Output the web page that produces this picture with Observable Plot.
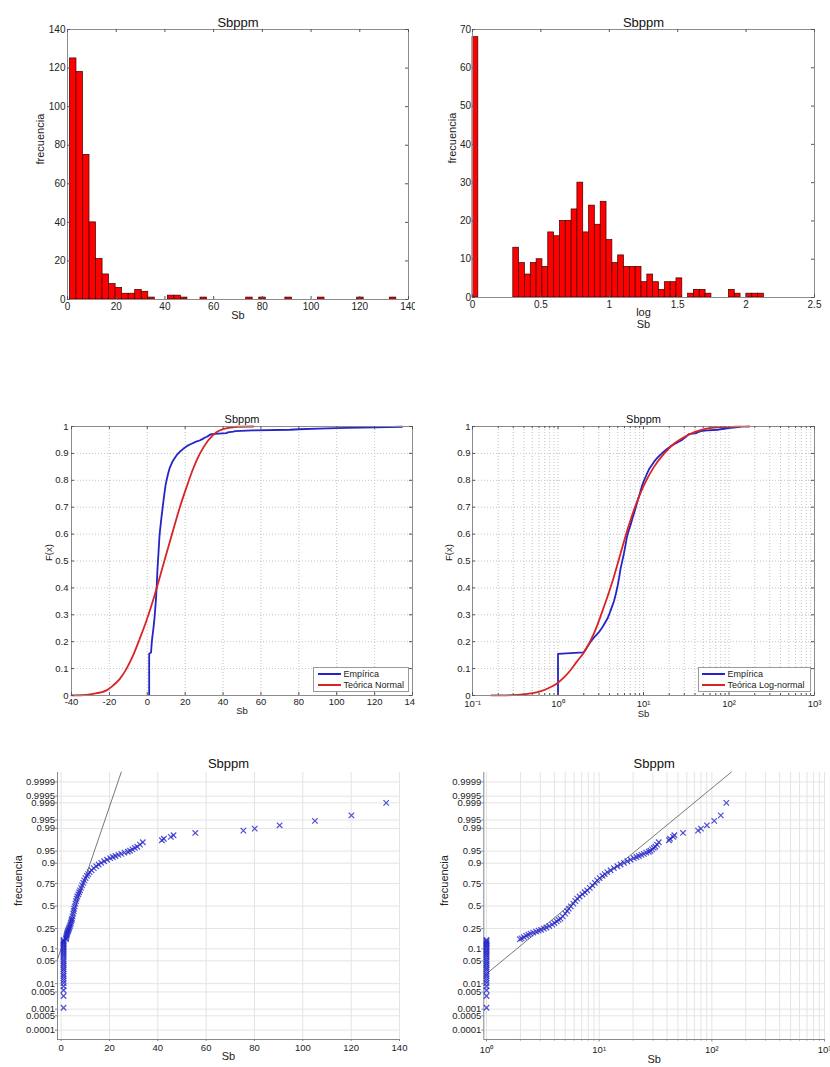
<!DOCTYPE html>
<html><head><meta charset="utf-8">
<script src="https://cdn.jsdelivr.net/npm/d3@7"></script>
<script src="https://cdn.jsdelivr.net/npm/@observablehq/plot@0.6"></script>
<style>
body{margin:0;background:#fff;}
#wrap{position:relative;width:830px;height:1067px;overflow:hidden;font-family:"Liberation Sans",Arial,Helvetica,sans-serif;background:#fff;}
.panel{position:absolute;}
.legend{position:absolute;background:#fff;border:1px solid #9a9a9a;font-size:9px;color:#222;box-sizing:border-box;padding:0.5px 0 0 0;}
.legend .row{display:flex;align-items:center;height:11px;white-space:nowrap;}
.legend .sw{display:inline-block;height:0;border-top:2px solid;}
</style></head><body><div id="wrap"></div><script>
// ---------------- DATA ----------------
const chartTitle = "Sbppm";
const xLabel = "Sb";
const xLabelLog = ["log", "Sb"];
const yLabelFreq = "frecuencia";
const yLabelCdf = "F(x)";

// Panel 1: histogram of Sb (50 bins over the data range)
const sbHistRange = [1, 135];
const sbCounts = [125,118,75,40,21,13,8,6,3,3,5,4,1,0,0,2,2,1,0,0,1,0,0,0,0,0,0,1,0,1,0,0,0,1,0,0,0,0,1,0,0,0,0,0,1,0,0,0,0,1];
const sbTicksX = [0,20,40,60,80,100,120,140];
const sbTicksY = [0,20,40,60,80,100,120,140];

// Panel 2: histogram of log10(Sb) (50 bins)
const logHistRange = [0, 2.13];
const logCounts = [68,0,0,0,0,0,0,13,9,6,9,10,8,17,16,20,20,23,30,17,24,19,25,15,9,11,8,8,8,4,6,4,2,4,4,5,0,1,2,2,1,0,0,0,2,1,0,1,1,1];
const logTicksX = [0,0.5,1,1.5,2,2.5];
const logTicksY = [0,10,20,30,40,50,60,70];

// Sample (Sb value, cumulative probability) read from the empirical / probability plots
const sampleSb = [1,1,1,1,1,1,1,1,1,1,1,1,1,1,1,1,1,1,1,1,1,1,1,1,1,1,1,1,1,
  1.98,2.05,2.15,2.25,2.35,2.46,2.6,2.75,2.9,3.05,3.23,3.4,3.6,3.83,4.0,4.2,4.37,4.54,4.75,5.0,5.2,5.37,5.6,5.9,6.15,6.38,6.7,7.1,7.45,7.82,8.25,8.7,9.15,9.6,10.1,10.7,11.2,11.8,12.6,13.5,14.5,15.5,16.6,17.8,19.0,20.3,21.4,22.5,23.7,24.9,26.2,27.6,28.5,29.5,30.5,31.5,32.6,33.8,
  41.7,42.5,45.4,46.5,55.5,75.4,80.1,90.4,105,120.1,134.5];
const sampleP = [0.00115,0.0035,0.0058,0.0081,0.0104,0.0127,0.015,0.018,0.021,0.025,0.029,0.033,0.038,0.043,0.049,0.055,0.062,0.069,0.076,0.084,0.092,0.1,0.108,0.116,0.124,0.132,0.14,0.148,0.155,
  0.160,0.166,0.175,0.186,0.195,0.204,0.213,0.222,0.230,0.238,0.249,0.260,0.274,0.289,0.305,0.323,0.338,0.353,0.378,0.410,0.440,0.469,0.495,0.528,0.558,0.587,0.612,0.637,0.660,0.681,0.707,0.732,0.756,0.779,0.798,0.816,0.830,0.845,0.858,0.872,0.883,0.893,0.902,0.910,0.917,0.924,0.929,0.933,0.937,0.941,0.945,0.948,0.951,0.955,0.959,0.962,0.967,0.972,
  0.9756,0.978,0.9808,0.983,0.9857,0.988,0.9898,0.9922,0.9946,0.9967,0.999];

// Panel 3: theoretical normal CDF
const normalSb = [-40,-35,-28.6,-21.5,-18.1,-14.5,-11,-7.5,-4,-0.4,3.6,6.6,10.1,13.6,17.2,20.7,24.2,27.7,32.1,36.5,40,44,48,56];
const normalF  = [0.0005,0.001,0.006,0.019,0.037,0.062,0.099,0.149,0.211,0.279,0.366,0.44,0.527,0.613,0.70,0.774,0.843,0.898,0.948,0.979,0.99,0.996,0.999,1.0];

// Panel 4: theoretical log-normal CDF
const lognSb = [0.166,0.25,0.361,0.5,0.62,0.78,0.973,1.2,1.39,1.65,2.0,2.62,3.43,4.49,5.38,6.45,8.07,10.1,13.2,17.3,22.7,32.6,51,80,120,173];
const lognF  = [0.0002,0.0008,0.003,0.009,0.015,0.028,0.045,0.07,0.093,0.125,0.159,0.229,0.328,0.44,0.527,0.613,0.706,0.781,0.849,0.898,0.936,0.967,0.99,0.997,0.999,1.0];

// Panels 5/6: reference lines (Sb, probability at ends)
const refLinSb = [-1.5, 24.9];
const refLinP  = [0.055, 0.99997];
const refLogSb = [0.946, 149];
const refLogP  = [0.018, 0.99997];

const cdfTicksX = [-40,-20,0,20,40,60,80,100,120,140];
const cdfTicksY = [0,0.1,0.2,0.3,0.4,0.5,0.6,0.7,0.8,0.9,1];
const logAxisTicks = [0.1,1,10,100,1000];
const logAxisLabels = ["10\u207B\u00B9","10\u2070","10\u00B9","10\u00B2","10\u00B3"];
const probTicks = [0.0001,0.0005,0.001,0.005,0.01,0.05,0.1,0.25,0.5,0.75,0.9,0.95,0.99,0.995,0.999,0.9995,0.9999];
const probTickLabels = ["0.0001","0.0005","0.001","0.005","0.01","0.05","0.1","0.25","0.5","0.75","0.9","0.95","0.99","0.995","0.999","0.9995","0.9999"];
const p5TicksX = [0,20,40,60,80,100,120,140];
const p6TicksX = [1,10,100,1000];
const legend3 = ["Empírica","Teórica Normal"];
const legend4 = ["Empírica","Teórica Log-normal"];

// ---------------- HELPERS ----------------
const FONT = '"Liberation Sans", Arial, Helvetica, sans-serif';
const BLUE = "#2424c8", RED = "#d92424";
const wrap = document.getElementById("wrap");

function probit(p){
  const a=[-3.969683028665376e+01,2.209460984245205e+02,-2.759285104469687e+02,1.383577518672690e+02,-3.066479806614716e+01,2.506628277459239e+00];
  const b=[-5.447609879822406e+01,1.615858368580409e+02,-1.556989798598866e+02,6.680131188771972e+01,-1.328068155288572e+01];
  const c=[-7.784894002430293e-03,-3.223964580411365e-01,-2.400758277161838e+00,-2.549732539343734e+00,4.374664141464968e+00,2.938163982698783e+00];
  const d=[7.784695709041462e-03,3.224671290700398e-01,2.445134137142996e+00,3.754408661907416e+00];
  const pl=0.02425, ph=1-pl; let q,r;
  if(p<pl){q=Math.sqrt(-2*Math.log(p));return (((((c[0]*q+c[1])*q+c[2])*q+c[3])*q+c[4])*q+c[5])/((((d[0]*q+d[1])*q+d[2])*q+d[3])*q+1);}
  if(p<=ph){q=p-0.5;r=q*q;return (((((a[0]*r+a[1])*r+a[2])*r+a[3])*r+a[4])*r+a[5])*q/(((((b[0]*r+b[1])*r+b[2])*r+b[3])*r+b[4])*r+1);}
  q=Math.sqrt(-2*Math.log(1-p));return -(((((c[0]*q+c[1])*q+c[2])*q+c[3])*q+c[4])*q+c[5])/((((d[0]*q+d[1])*q+d[2])*q+d[3])*q+1);
}
const probZ = probTicks.map(probit);

function place(svg, left, top){
  const d=document.createElement("div");
  d.className="panel"; d.style.left=left+"px"; d.style.top=top+"px";
  d.appendChild(svg); wrap.appendChild(d);
}
function style(fs){ return {fontFamily:FONT,fontSize:fs,color:"#222",background:"transparent",overflow:"hidden"}; }
function inTicks(xt, yt, fw, fh, len, color="#555"){
  return [
    Plot.tickX(xt,{x:d=>d,insetTop:fh-len,stroke:color}),
    Plot.tickX(xt,{x:d=>d,insetBottom:fh-len,stroke:color}),
    Plot.tickY(yt,{y:d=>d,insetRight:fw-len,stroke:color}),
    Plot.tickY(yt,{y:d=>d,insetLeft:fw-len,stroke:color})
  ];
}
function minorLog(lo, hi){
  const out=[];
  for(let k=-1;k<=3;k++) for(let m=2;m<=9;m++){const v=m*Math.pow(10,k); if(v>lo&&v<hi) out.push(v);}
  return out;
}
function texts(title, tdy, tfs, xl, xdy, lfs, yl, ydx){
  const arr=[Plot.text([title],{text:d=>d,frameAnchor:"top",dy:tdy,fontSize:tfs,fill:"#111"})];
  (Array.isArray(xl)?xl:[xl]).forEach((s,i)=>arr.push(Plot.text([s],{text:d=>d,frameAnchor:"bottom",dy:xdy+i*12,fontSize:lfs,fill:"#222"})));
  arr.push(Plot.text([yl],{text:d=>d,frameAnchor:"left",dx:ydx,rotate:-90,fontSize:lfs,fill:"#222"}));
  return arr;
}
function legend(left, top, width, labels, lineLeft, lineW, gap){
  const div=document.createElement("div"); div.className="legend";
  Object.assign(div.style,{left:left+"px",top:top+"px",width:width+"px",height:"25px"});
  [BLUE,RED].forEach((col,i)=>{
    const row=document.createElement("div"); row.className="row";
    const sw=document.createElement("span"); sw.className="sw";
    sw.style.borderTopColor=col; sw.style.width=lineW+"px"; sw.style.marginLeft=lineLeft+"px"; sw.style.marginRight=gap+"px";
    const t=document.createElement("span"); t.textContent=labels[i];
    row.appendChild(sw); row.appendChild(t); div.appendChild(row);
  });
  wrap.appendChild(div);
}
function histBins(counts, range){
  const w=(range[1]-range[0])/counts.length;
  return counts.map((n,i)=>({x1:range[0]+i*w,x2:range[0]+(i+1)*w,n})).filter(d=>d.n>0);
}

// ---------------- PANEL 1 ----------------
{
  const W=415,H=335,L=67,R=7,T=29,B=36,fw=W-L-R,fh=H-T-B;
  place(Plot.plot({width:W,height:H,marginLeft:L,marginRight:R,marginTop:T,marginBottom:B,style:style("10px"),
    x:{domain:[0,140],label:null}, y:{domain:[0,140],label:null},
    marks:[
      Plot.rectY(histBins(sbCounts,sbHistRange),{x1:"x1",x2:"x2",y1:0,y2:"n",fill:"#ff0000",stroke:"#3b0000",strokeWidth:0.7}),
      Plot.frame({stroke:"#8c8c8c"}),
      ...inTicks(sbTicksX,sbTicksY,fw,fh,3),
      Plot.axisX(sbTicksX,{tickSize:0,tickPadding:3,tickFormat:d=>String(d),label:null}),
      Plot.axisY(sbTicksY,{tickSize:0,tickPadding:2,tickFormat:d=>String(d),label:null}),
      ...texts(chartTitle,-12,13,xLabel,19,11,yLabelFreq,-27)
    ]}),0,0);
}
// ---------------- PANEL 2 ----------------
{
  const W=415,H=335,L=57,R=16,T=29,B=38,fw=W-L-R,fh=H-T-B;
  place(Plot.plot({width:W,height:H,marginLeft:L,marginRight:R,marginTop:T,marginBottom:B,style:style("10px"),
    x:{domain:[0,2.5],label:null}, y:{domain:[0,70],label:null},
    marks:[
      Plot.rectY(histBins(logCounts,logHistRange),{x1:"x1",x2:"x2",y1:0,y2:"n",fill:"#ff0000",stroke:"#3b0000",strokeWidth:0.7}),
      Plot.frame({stroke:"#8c8c8c"}),
      ...inTicks(logTicksX,logTicksY,fw,fh,3),
      Plot.axisX(logTicksX,{tickSize:0,tickPadding:3,tickFormat:d=>String(d),label:null}),
      Plot.axisY(logTicksY,{tickSize:0,tickPadding:1.5,tickFormat:d=>String(d),label:null}),
      ...texts(chartTitle,-12,13,xLabelLog,18,11,yLabelFreq,-20)
    ]}),415,0);
}
// ---------------- PANEL 3 ----------------
{
  const W=415,H=360,L=71,R=3,T=56,B=35,fw=W-L-R,fh=H-T-B;
  const ecdf=sampleSb.map((x,i)=>({x,F:sampleP[i]}));
  const norm=normalSb.map((x,i)=>({x,F:normalF[i]}));
  const g={stroke:"#c4c4c4",strokeOpacity:1,strokeDasharray:"1,2"};
  place(Plot.plot({width:W,height:H,marginLeft:L,marginRight:R,marginTop:T,marginBottom:B,style:style("9.5px"),
    x:{domain:[-40,140],label:null}, y:{domain:[0,1],label:null},
    marks:[
      Plot.gridX(cdfTicksX,g), Plot.gridY(cdfTicksY,g),
      Plot.line(ecdf,{x:"x",y:"F",curve:"linear",stroke:BLUE,strokeWidth:1.8}),
      Plot.line(norm,{x:"x",y:"F",curve:"monotone-x",stroke:RED,strokeWidth:1.8}),
      Plot.frame({stroke:"#8c8c8c"}),
      ...inTicks(cdfTicksX,cdfTicksY,fw,fh,3),
      Plot.axisX(cdfTicksX,{tickSize:0,tickPadding:3,tickFormat:d=>String(d),label:null}),
      Plot.axisY(cdfTicksY,{tickSize:0,tickPadding:3,tickFormat:d=>String(d),label:null}),
      ...texts(chartTitle,-11.7,11,xLabel,18,9.5,yLabelCdf,-23)
    ]}),0,370);
  legend(313,667,96,legend3,4,23,2.5);
}
// ---------------- PANEL 4 ----------------
{
  const W=415,H=360,L=57,R=16,T=56,B=35,fw=W-L-R,fh=H-T-B;
  const ecdf=sampleSb.map((x,i)=>({x,F:sampleP[i]}));
  const logn=lognSb.map((x,i)=>({x,F:lognF[i]}));
  const minor=minorLog(0.1,1000);
  const g={stroke:"#c4c4c4",strokeOpacity:1,strokeDasharray:"1,2"};
  place(Plot.plot({width:W,height:H,marginLeft:L,marginRight:R,marginTop:T,marginBottom:B,style:style("9.5px"),
    x:{type:"log",domain:[0.1,1000],label:null}, y:{domain:[0,1],label:null},
    marks:[
      Plot.gridX(minor,g), Plot.gridX(logAxisTicks,g), Plot.gridY(cdfTicksY,g),
      Plot.line(ecdf,{x:"x",y:"F",curve:"linear",stroke:BLUE,strokeWidth:1.8}),
      Plot.line(logn,{x:"x",y:"F",curve:"monotone-x",stroke:RED,strokeWidth:1.8}),
      Plot.frame({stroke:"#8c8c8c"}),
      ...inTicks(logAxisTicks,cdfTicksY,fw,fh,3),
      Plot.tickX(minor,{x:d=>d,insetTop:fh-2,stroke:"#555"}),
      Plot.tickX(minor,{x:d=>d,insetBottom:fh-2,stroke:"#555"}),
      Plot.axisX(logAxisTicks,{tickSize:0,tickPadding:5,tickFormat:d=>logAxisLabels[logAxisTicks.indexOf(d)],label:null}),
      Plot.axisY(cdfTicksY,{tickSize:0,tickPadding:2,tickFormat:d=>String(d),label:null}),
      ...texts(chartTitle,-11.7,11,xLabel,21.5,9.5,yLabelCdf,-24)
    ]}),415,370);
  legend(698,667,113,legend4,3,23,2.5);
}
// ---------------- PANEL 5 ----------------
{
  const W=415,H=327,L=57,R=16,T=32,B=28;
  const xd=[-1.5,140], zd=[-4,4];
  const pts=sampleSb.map((x,i)=>({x,z:probit(sampleP[i])}));
  const ref=refLinSb.map((x,i)=>({x,z:probit(refLinP[i])}));
  const g={stroke:"#e4e4e4",strokeOpacity:1};
  place(Plot.plot({width:W,height:H,marginLeft:L,marginRight:R,marginTop:T,marginBottom:B,style:style("9.5px"),
    x:{domain:xd,label:null}, y:{domain:zd,label:null},
    marks:[
      Plot.gridX(p5TicksX,g), Plot.gridY(probZ,g),
      Plot.ruleX([xd[0]],{stroke:"#888"}), Plot.ruleY([zd[0]],{stroke:"#888"}),
      Plot.line(ref,{x:"x",y:"z",stroke:"#555",strokeWidth:0.8}),
      Plot.dot(pts,{x:"x",y:"z",symbol:"times",r:2.6,stroke:BLUE,strokeWidth:1.2,strokeOpacity:0.8}),
      Plot.axisX(p5TicksX,{tickSize:2,tickPadding:2.5,stroke:"#888",tickFormat:d=>String(d),label:null}),
      Plot.axisY(probZ,{tickSize:2,tickPadding:0.5,stroke:"#888",tickFormat:z=>probTickLabels[probZ.indexOf(z)],label:null}),
      ...texts(chartTitle,-13.7,13,xLabel,20.3,11,yLabelFreq,-39)
    ]}),0,740);
}
// ---------------- PANEL 6 ----------------
{
  const W=415,H=327,L=68.3,R=6,T=32,B=28;
  const xd=[0.946,1000], zd=[-4,4];
  const pts=sampleSb.map((x,i)=>({x,z:probit(sampleP[i])}));
  const ref=refLogSb.map((x,i)=>({x,z:probit(refLogP[i])}));
  const minor=minorLog(1,1000);
  const g={stroke:"#e4e4e4",strokeOpacity:1};
  place(Plot.plot({width:W,height:H,marginLeft:L,marginRight:R,marginTop:T,marginBottom:B,style:style("9.5px"),
    x:{type:"log",domain:xd,label:null}, y:{domain:zd,label:null},
    marks:[
      Plot.gridX(minor,g), Plot.gridX(p6TicksX,g), Plot.gridY(probZ,g),
      Plot.ruleX([xd[0]],{stroke:"#888"}), Plot.ruleY([zd[0]],{stroke:"#888"}),
      Plot.line(ref,{x:"x",y:"z",stroke:"#555",strokeWidth:0.8}),
      Plot.dot(pts,{x:"x",y:"z",symbol:"times",r:2.6,stroke:BLUE,strokeWidth:1.2,strokeOpacity:0.8}),
      Plot.axisX(minor,{tickSize:1.5,stroke:"#888",tickFormat:()=>"",label:null}),
      Plot.axisX(p6TicksX,{tickSize:2.5,tickPadding:4,stroke:"#888",tickFormat:d=>logAxisLabels[logAxisTicks.indexOf(d)],label:null}),
      Plot.axisY(probZ,{tickSize:2,tickPadding:0.5,stroke:"#888",tickFormat:z=>probTickLabels[probZ.indexOf(z)],label:null}),
      ...texts(chartTitle,-13.7,13,xLabel,23,11,yLabelFreq,-39)
    ]}),415,740);
}
</script></body></html>
